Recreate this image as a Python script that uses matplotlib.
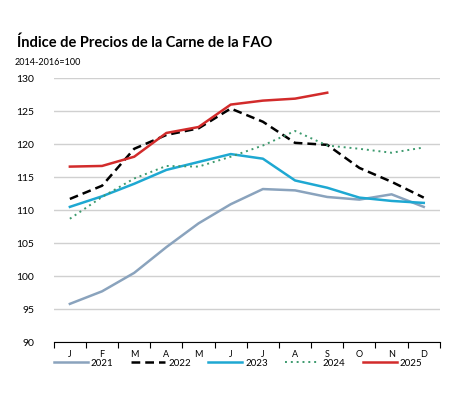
import matplotlib.pyplot as plt
import numpy as np

plt.rcParams['font.family'] = ['Lato', 'DejaVu Sans']

months = ["J", "F", "M", "A", "M", "J", "J", "A", "S", "O", "N", "D"]
y2021 = [95.8, 97.7, 100.5, 104.4, 108.0, 110.9, 113.2, 113.0, 112.0, 111.6, 112.4, 110.5]
y2022 = [111.7, 113.7, 119.3, 121.4, 122.4, 125.4, 123.4, 120.2, 119.9, 116.4, 114.3, 111.9]
y2023 = [110.5, 112.1, 114.0, 116.1, 117.3, 118.5, 117.8, 114.5, 113.4, 111.9, 111.4, 111.1]
y2024 = [108.7, 112.0, 114.8, 116.7, 116.6, 118.1, 119.8, 122.0, 119.8, 119.3, 118.7, 119.5]
y2025 = [116.6, 116.7, 118.1, 121.7, 122.6, 126.0, 126.6, 126.9, 127.8]

x = np.arange(len(months))

fig = plt.figure(figsize=(4.76, 4.03), dpi=100)
ax = fig.add_axes([0.113, 0.151, 0.811, 0.655])

ax.plot(x, y2021, color="#8aa3bd", lw=1.8, label="2021")
ax.plot(x, y2022, color="black", lw=1.8, ls=(0, (3.5, 2)), label="2022")
ax.plot(x, y2023, color="#1ea8d2", lw=1.8, label="2023")
ax.plot(x, y2024, color="#3d9a6e", lw=1.4, ls=(0, (1, 2)), label="2024")
ax.plot(x[:len(y2025)], y2025, color="#d22b2b", lw=1.8, label="2025")

ax.set_xlim(-0.5, 11.5)
ax.set_ylim(90, 130)
ax.set_yticks(np.arange(90, 131, 5))
ax.set_xticks(x)
ax.set_xticklabels(months)
ax.set_xticks(np.arange(-0.5, 12, 1), minor=True)
ax.tick_params(axis="x", which="major", length=0, labelsize=6.5, pad=6)
ax.tick_params(axis="x", which="minor", length=4, direction="out", width=0.8)
ax.tick_params(axis="y", length=0, labelsize=7.5, pad=14)

ax.grid(axis="y", color="#d0d0d0", lw=1)
ax.set_axisbelow(True)
for s in ["left", "right", "top"]:
    ax.spines[s].set_visible(False)
ax.spines["bottom"].set_color("black")
ax.spines["bottom"].set_linewidth(0.8)

fig.text(0.036, 0.893, "Índice de Precios de la Carne de la FAO",
         fontsize=10.5, fontweight="bold", va="center")
fig.text(0.03, 0.846, "2014-2016=100", fontsize=6.5, va="center")

fig.legend(loc="center", bbox_to_anchor=(0.5, 0.099), ncol=5, frameon=False,
           fontsize=7, handlelength=3.5, handletextpad=0.3, columnspacing=1.8)

fig.savefig("out.png", dpi=100)
